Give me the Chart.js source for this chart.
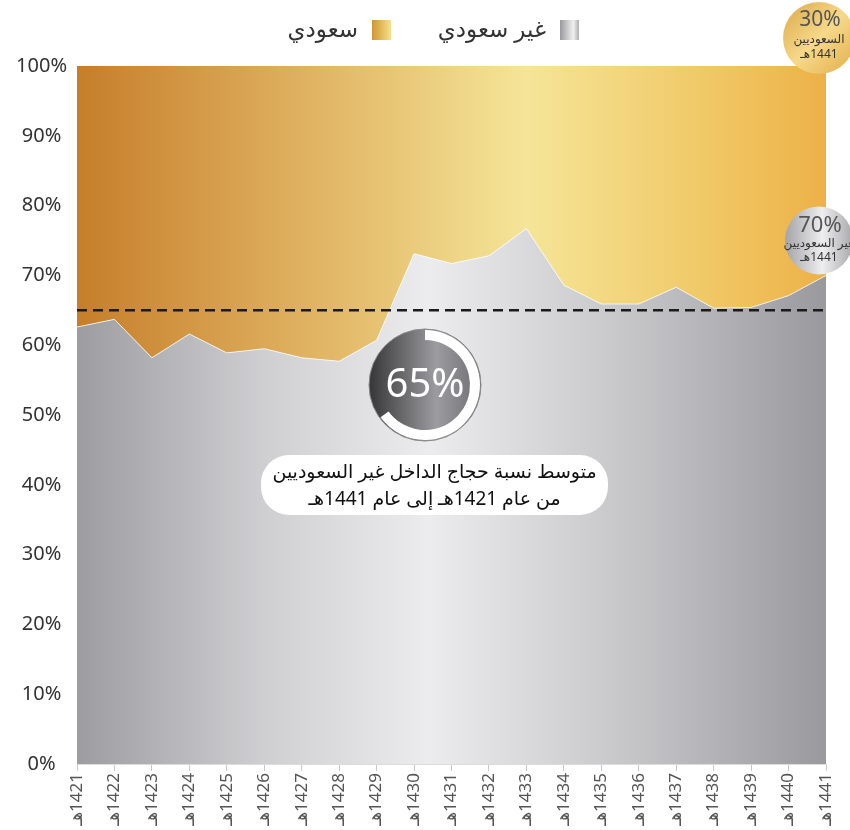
<!DOCTYPE html>
<html lang="ar">
<head>
<meta charset="utf-8">
<script src="https://cdn.jsdelivr.net/npm/chart.js@4.4.1/dist/chart.umd.min.js"></script>
<style>
  html, body { margin: 0; padding: 0; background: #fff; }
  #wrap { width: 850px; height: 830px; position: relative; }
</style>
</head>
<body>
<div id="wrap"><canvas id="hajjChart" width="850" height="830"></canvas></div>
<script>
// data
var years = ['1421', '1422', '1423', '1424', '1425', '1426', '1427', '1428', '1429', '1430', '1431',
  '1432', '1433', '1434', '1435', '1436', '1437', '1438', '1439', '1440', '1441']
var nonSaudi = [62.6, 63.7, 58.2, 61.6, 58.9, 59.5, 58.2, 57.7, 60.7, 73.1, 71.7,
  72.8, 76.7, 68.6, 65.9, 65.9, 68.3, 65.3, 65.4, 67.1, 70.0]
var saudi = [37.4, 36.3, 41.8, 38.4, 41.1, 40.5, 41.8, 42.3, 39.3, 26.9, 28.3,
  27.2, 23.3, 31.4, 34.1, 34.1, 31.7, 34.7, 34.6, 32.9, 30.0]
var avgShare = 65
var yTicks = [0, 10, 20, 30, 40, 50, 60, 70, 80, 90, 100]

var nonSaudiName = 'غير سعودي'
var saudiName = 'سعودي'
var noteLine1 = 'متوسط نسبة حجاج الداخل غير السعوديين'
var noteLine2 = 'من عام 1421هـ إلى عام 1441هـ'

// RLM so the hijri mark sits on the left of the digits
var labels = years.map(function (y) { return '\u200F' + y + 'هـ' })

var FONT = '"Noto Sans", "DejaVu Sans", sans-serif'

function hGradient(ctx, x0, x1, stops) {
  var g = ctx.createLinearGradient(x0, 0, x1, 0)
  stops.forEach(function (s) { g.addColorStop(s[0], s[1]) })
  return g
}

var grayStops = [[0, '#9d9da1'], [0.25, '#cfcfd2'], [0.47, '#ececee'], [0.75, '#c4c4c7'], [1, '#9a9a9e']]
var goldStops = [[0, '#c67e2a'], [0.3, '#dfb160'], [0.6, '#f5e598'], [0.85, '#f0c764'], [1, '#edb148']]
var grayKey = [[0, '#9a9a9e'], [0.7, '#f0f0f0'], [1, '#b0b0b4']]
var goldKey = [[0, '#d19533'], [1, '#f6e08a']]

function areaFill(stops) {
  return function (context) {
    var area = context.chart.chartArea
    if (!area) return '#ccc'
    return hGradient(context.chart.ctx, area.left, area.right, stops)
  }
}

// legend, dashed average line, donut, note box and end badges
var extrasPlugin = {
  id: 'extras',
  beforeDraw: function (chart) {
    var ctx = chart.ctx
    var keys = [
      { text: chart.data.datasets[0].label, box: 560, stops: grayKey },
      { text: chart.data.datasets[1].label, box: 372, stops: goldKey }
    ]
    ctx.save()
    ctx.font = '23px ' + FONT
    ctx.fillStyle = '#333'
    ctx.textBaseline = 'middle'
    ctx.textAlign = 'right'
    ctx.direction = 'rtl'
    keys.forEach(function (k) {
      ctx.fillStyle = hGradient(ctx, k.box, k.box + 19, k.stops)
      ctx.fillRect(k.box, 20, 19, 20)
      ctx.fillStyle = '#333'
      ctx.fillText(k.text, k.box - 14, 30)
    })
    ctx.restore()
  },
  afterDatasetsDraw: function (chart) {
    var ctx = chart.ctx
    var area = chart.chartArea
    var y = chart.scales.y.getPixelForValue(avgShare)
    ctx.save()
    ctx.beginPath()
    ctx.setLineDash([10, 6])
    ctx.lineWidth = 2.5
    ctx.strokeStyle = '#1b1b1b'
    ctx.moveTo(area.left, y)
    ctx.lineTo(area.right, y)
    ctx.stroke()
    ctx.restore()
  },
  afterDraw: function (chart) {
    var ctx = chart.ctx
    var xs = chart.scales.x
    var ys = chart.scales.y
    var area = chart.chartArea

    // donut with the average share
    var cx = 425, cy = 385, r = 56
    ctx.save()
    ctx.beginPath()
    ctx.arc(cx, cy, r, 0, Math.PI * 2)
    ctx.fillStyle = hGradient(ctx, cx - r, cx + r, [[0, '#363638'], [0.6, '#9c9ca0'], [1, '#6e6e72']])
    ctx.fill()
    ctx.lineWidth = 1
    ctx.strokeStyle = '#8a8a8a'
    ctx.stroke()
    var a0 = -Math.PI / 2
    var a1 = a0 + Math.PI * 2 * avgShare / 100
    ctx.beginPath()
    ctx.arc(cx, cy, r - 1, a0, a1)
    ctx.arc(cx, cy, r - 11, a1, a0, true)
    ctx.closePath()
    ctx.fillStyle = '#ffffff'
    ctx.fill()
    ctx.fillStyle = '#ffffff'
    ctx.font = '40px ' + FONT
    ctx.textAlign = 'center'
    ctx.textBaseline = 'middle'
    ctx.fillText(avgShare + '%', cx, cy + 1)

    // note box
    var bx = 261, by = 455, bwid = 347, bh = 60
    ctx.beginPath()
    ctx.roundRect(bx, by, bwid, bh, 28)
    ctx.fillStyle = '#ffffff'
    ctx.fill()
    ctx.fillStyle = '#111'
    ctx.font = '19px ' + FONT
    ctx.direction = 'rtl'
    ctx.fillText(noteLine1, bx + bwid / 2, 473)
    ctx.fillText(noteLine2, bx + bwid / 2, 500)

    // end badges
    var last = years.length - 1
    var ex = xs.getPixelForValue(last) - 7
    var goldY = area.top - 28
    ctx.beginPath()
    ctx.arc(ex, goldY, 36, 0, Math.PI * 2)
    var gg = ctx.createLinearGradient(ex - 36, goldY - 36, ex + 36, goldY + 36)
    gg.addColorStop(0, '#dba846')
    gg.addColorStop(0.5, '#f6d98a')
    gg.addColorStop(1, '#e2ad48')
    ctx.fillStyle = gg
    ctx.fill()
    ctx.fillStyle = '#555'
    ctx.font = '21px ' + FONT
    ctx.direction = 'ltr'
    ctx.fillText(saudi[last] + '%', ex + 1, goldY - 18)
    ctx.fillStyle = '#333'
    ctx.font = '12px ' + FONT
    ctx.direction = 'rtl'
    ctx.fillText('السعوديين', ex, goldY + 2)
    ctx.fillText(years[last] + 'هـ', ex, goldY + 17)

    var grayY = ys.getPixelForValue(nonSaudi[last]) - 35
    ctx.beginPath()
    ctx.arc(ex, grayY, 34, 0, Math.PI * 2)
    ctx.fillStyle = hGradient(ctx, ex - 34, ex + 34, [[0, '#a4a4a8'], [0.55, '#eeeef0'], [1, '#a8a8ac']])
    ctx.fill()
    ctx.fillStyle = '#555'
    ctx.font = '22px ' + FONT
    ctx.direction = 'ltr'
    ctx.fillText(nonSaudi[last] + '%', ex + 1, grayY - 15)
    ctx.fillStyle = '#333'
    ctx.font = '12px ' + FONT
    ctx.direction = 'rtl'
    ctx.fillText('غير السعوديين', ex, grayY + 3)
    ctx.fillText(years[last] + 'هـ', ex, grayY + 17)
    ctx.restore()
  }
}

var hajjChart = new Chart(document.getElementById('hajjChart'), {
  type: 'line',
  data: {
    labels: labels,
    datasets: [
      {
        label: nonSaudiName,
        data: nonSaudi,
        fill: 'origin',
        backgroundColor: areaFill(grayStops),
        borderColor: 'rgba(255,255,255,0.75)',
        borderWidth: 1,
        pointRadius: 0,
        tension: 0
      },
      {
        label: saudiName,
        data: saudi,
        fill: '-1',
        backgroundColor: areaFill(goldStops),
        borderWidth: 0,
        pointRadius: 0,
        tension: 0
      }
    ]
  },
  options: {
    responsive: false,
    animation: false,
    layout: { padding: { top: 66, right: 24, bottom: 0, left: 0 } },
    plugins: {
      tooltip: { enabled: false },
      legend: { display: false }
    },
    scales: {
      x: {
        grid: { drawOnChartArea: false, color: '#c8c8c8', tickLength: 7 },
        border: { color: '#dcdcdc' },
        ticks: {
          minRotation: 90,
          maxRotation: 90,
          autoSkip: false,
          padding: 2,
          color: '#555',
          font: { size: 17, family: FONT }
        },
        afterFit: function (scale) { scale.height = 66 }
      },
      y: {
        stacked: true,
        min: 0,
        max: 100,
        z: 1,
        afterBuildTicks: function (scale) {
          scale.ticks = yTicks.map(function (v) { return { value: v } })
        },
        grid: { color: 'rgba(255,255,255,0.55)', lineWidth: 1.5, drawTicks: false },
        border: { display: false },
        ticks: {
          crossAlign: 'center',
          padding: 10,
          color: '#333',
          font: { size: 20, family: FONT },
          callback: function (v) { return v + '%' }
        },
        afterFit: function (scale) { scale.width = 77 }
      }
    }
  },
  plugins: [extrasPlugin]
})
</script>
</body>
</html>
